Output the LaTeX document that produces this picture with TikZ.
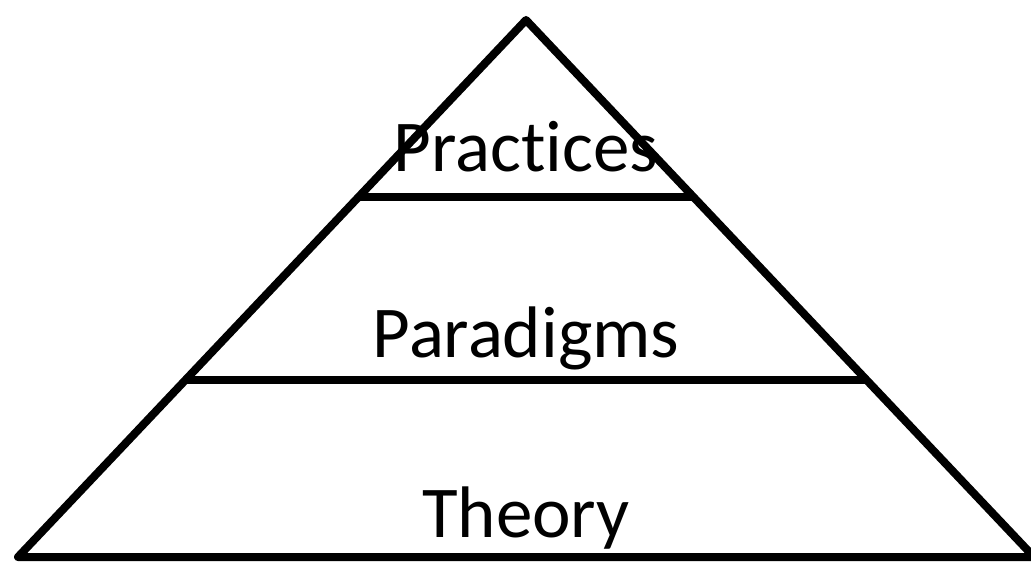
\documentclass[tikz,border=0pt]{standalone}
\usepackage{fontspec}
\setmainfont{Carlito}[Ligatures={NoCommon,NoRare}]
\usetikzlibrary{calc}
\begin{document}
\begin{tikzpicture}[x=1pt,y=-1pt,line width=8pt,
  layerlabel/.style={anchor=base,inner sep=0pt,font=\fontsize{73}{87}\selectfont}]
  \useasboundingbox (0,0) rectangle (1031,569);
  \clip (0,0) rectangle (1031,569);
  % triangle
  \coordinate (apex) at (526,20);
  \coordinate (baseL) at (18,557);
  \coordinate (baseR) at (1034,557);
  \draw[line join=round] (apex) -- (baseL) -- (baseR) -- cycle;
  % dividers between layers
  \coordinate (topL) at ($(apex)!0.33!(baseL)$);
  \coordinate (topR) at ($(apex)!0.33!(baseR)$);
  \coordinate (midL) at ($(apex)!0.67!(baseL)$);
  \coordinate (midR) at ($(apex)!0.67!(baseR)$);
  \draw (topL) -- (topR);
  \draw (midL) -- (midR);
  % labels
  \node[layerlabel] (practices) at (526,172) {Practices};
  \node[layerlabel] (paradigms) at (526,357) {Paradigms};
  \node[layerlabel] (theory) at (526,537) {Theory};
\end{tikzpicture}
\end{document}
